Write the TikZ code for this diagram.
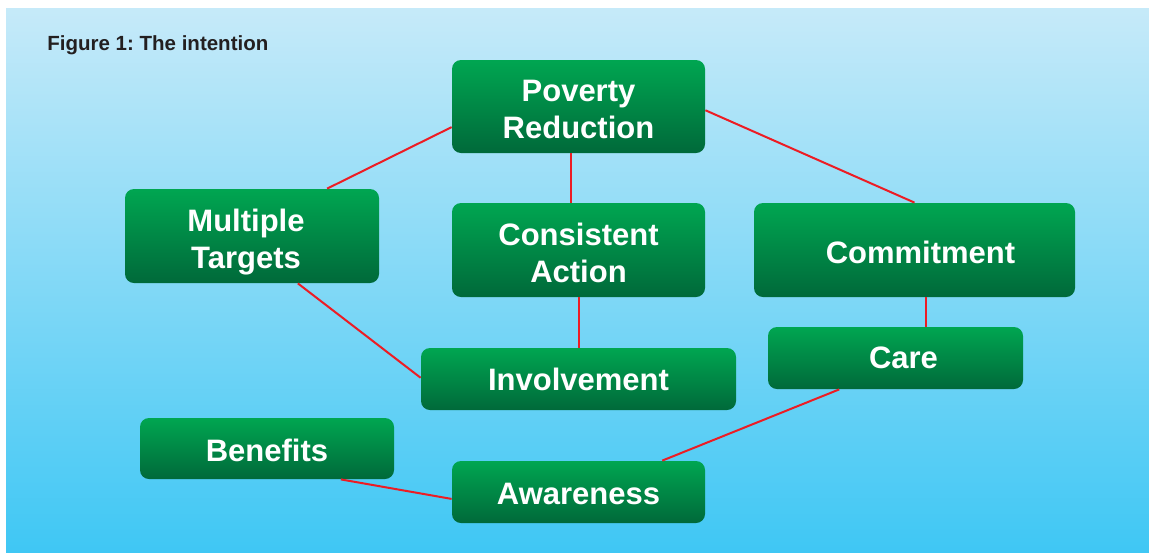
\documentclass[tikz,border=0pt]{standalone}
\usepackage{fontspec}
\setmainfont{Liberation Sans}
\usepackage{xcolor,tikz}
\usetikzlibrary{calc,positioning}
\definecolor{skytop}{HTML}{C6EAF9}
\definecolor{skybot}{HTML}{3FC7F4}
\definecolor{greentop}{HTML}{00A651}
\definecolor{greenbot}{HTML}{00693A}
\definecolor{linkred}{HTML}{ED1C24}
\definecolor{titlegray}{HTML}{231F20}
\tikzset{
  goal/.style={rectangle, rounded corners=4.5pt, top color=greentop, bottom color=greenbot,
    text=white, align=center, inner sep=0pt,
    font=\fontsize{15.5}{18.5}\selectfont\bfseries},
  link/.style={draw=linkred, line width=1pt}
}
\newcommand{\lift}[1]{\rule{0pt}{#1}}
\frenchspacing

\begin{document}
\begin{tikzpicture}[x=0.5pt,y=-0.5pt]
\useasboundingbox (0,0) rectangle (1149,552);
\fill[top color=skytop, bottom color=skybot] (6,8) rectangle (1149,552);
\node[anchor=base west, inner sep=0pt, text=titlegray, font=\fontsize{10.25}{12}\selectfont\bfseries] (title) at (47,50) {Figure 1: The intention};
%%%%
\node[goal, minimum width=126.5pt, minimum height=46.5pt] (pov) at (578.5,106.5) {\lift{14pt}Poverty\\Reduction};
\node[goal, minimum width=127pt, minimum height=47pt] (mt) at (252,236) {\lift{17pt}Multiple\hspace*{6pt}\\Targets\hspace*{6pt}};
\node[goal, minimum width=126.5pt, minimum height=47pt] (ca) at (578.5,250) {\lift{14pt}Consistent\\Action};
\node[goal, minimum width=160.5pt, minimum height=47pt] (cmt) at (914.5,250) {\lift{14pt}\hspace*{6pt}Commitment};
%%%%
\node[goal, minimum width=127.5pt, minimum height=31pt] (care) at (895.5,358) {\hspace*{8pt}Care};
\node[goal, minimum width=157.5pt, minimum height=31pt] (inv) at (578.5,379) {Involvement};
\node[goal, minimum width=127pt, minimum height=30.5pt] (ben) at (267,448.5) {\lift{13pt}Benefits};
\node[goal, minimum width=126.5pt, minimum height=31pt] (aw) at (578.5,492) {\lift{13pt}Awareness};
\coordinate (caretop) at ($(care.north west)!0.62!(care.north east)$);
%%%%%
\draw[link] ($(pov.north west)!0.72!(pov.south west)$) -- ($(mt.north west)!0.795!(mt.north east)$);
\draw[link] ($(pov.south west)!0.47!(pov.south east)$) -- ($(ca.north west)!0.47!(ca.north east)$);
\draw[link] ($(pov.north east)!0.54!(pov.south east)$) -- (cmt.north);
\draw[link] ($(mt.south west)!0.68!(mt.south east)$) -- ($(inv.north west)!0.48!(inv.south west)$);
\draw[link] (ca.south) -- (inv.north);
\draw[link] (caretop |- cmt.south) -- (caretop);
\draw[link] ($(care.south west)!0.28!(care.south east)$) -- ($(aw.north west)!0.83!(aw.north east)$);
\draw[link] ($(ben.south west)!0.79!(ben.south east)$) -- ($(aw.north west)!0.61!(aw.south west)$);
\end{tikzpicture}
\end{document}
